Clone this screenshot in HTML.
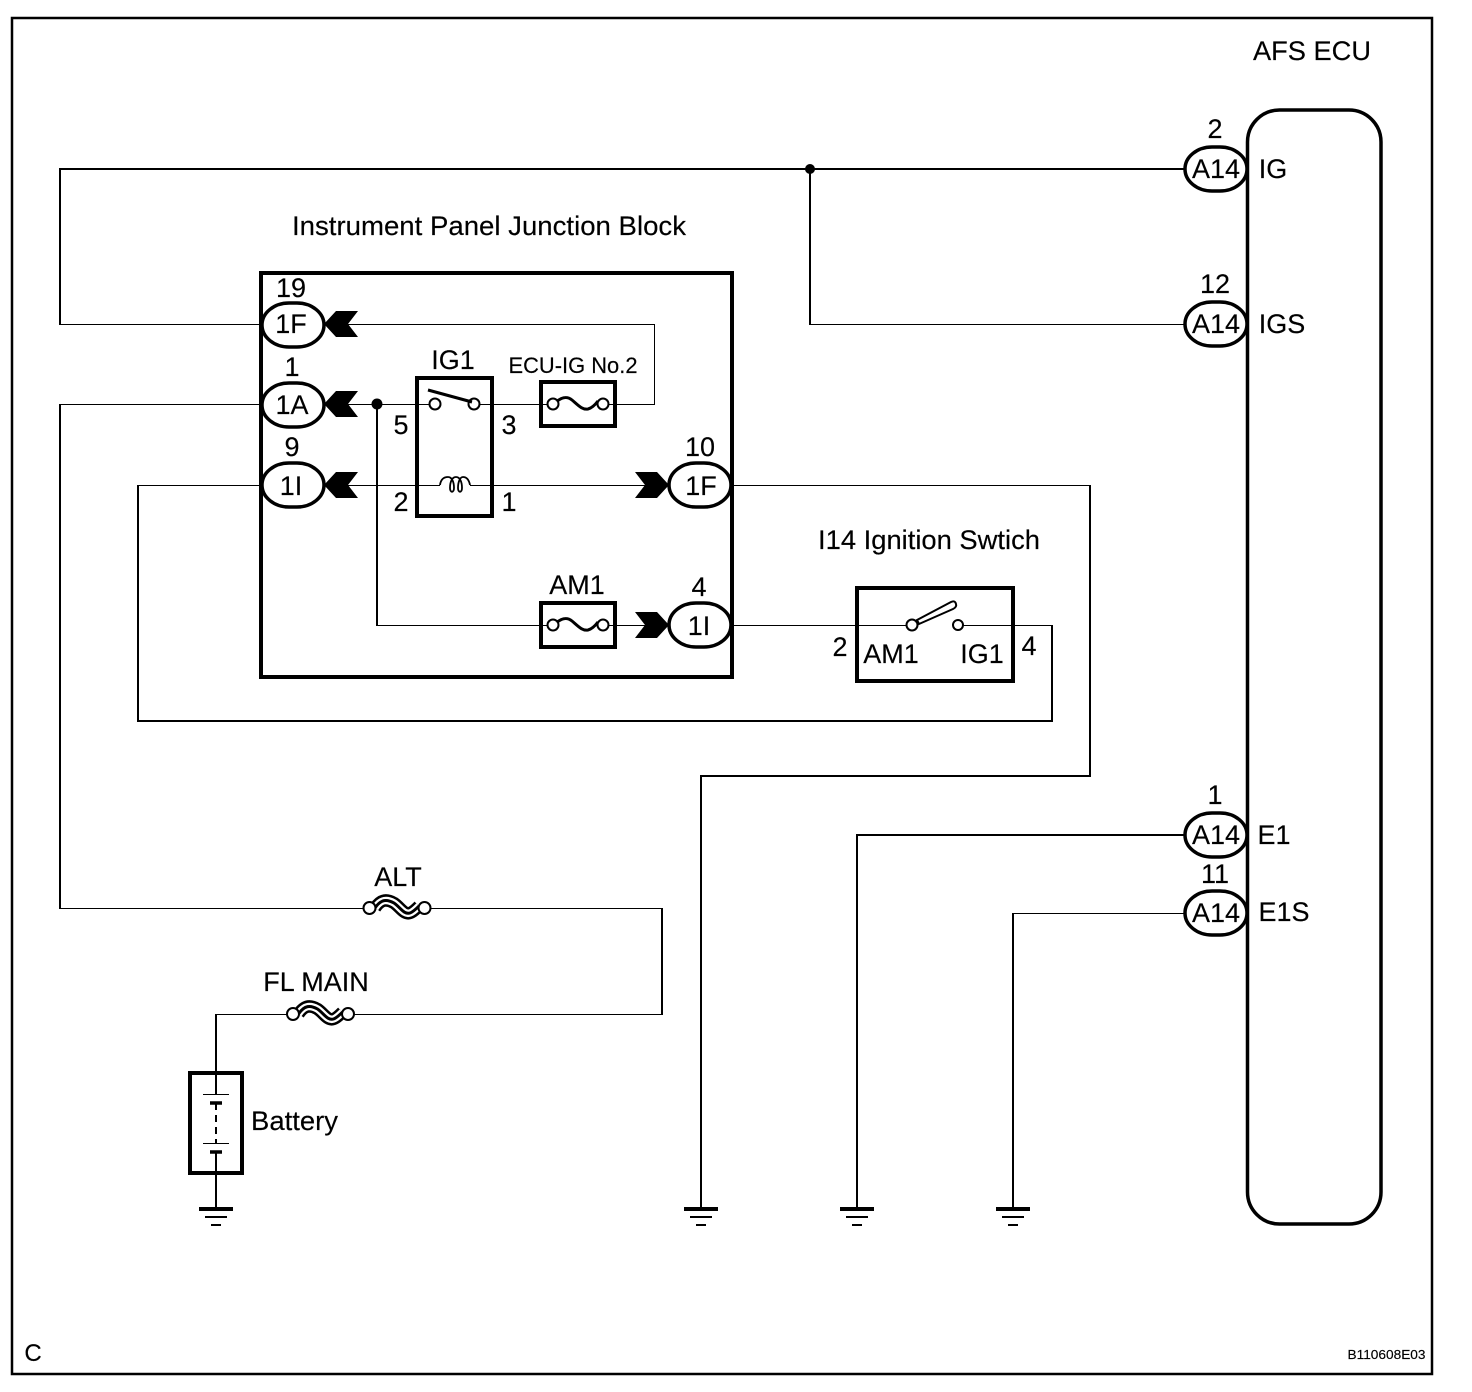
<!DOCTYPE html>
<html><head><meta charset="utf-8"><style>
html,body{margin:0;padding:0;background:#fff}
svg{display:block}
text{font-family:"Liberation Sans",Arial,sans-serif;font-size:27px;fill:#000;text-anchor:middle;stroke:#000;stroke-width:.15}
.w{fill:none;stroke:#000;stroke-width:2;shape-rendering:crispEdges}
.h{fill:none;stroke:#000;stroke-width:1;shape-rendering:crispEdges}
.b{fill:none;stroke:#000;stroke-width:4}
.p{fill:#fff;stroke:#000;stroke-width:3.5}
.c{fill:#fff;stroke:#000;stroke-width:2}
.f{fill:#000;stroke:none}
</style></head><body>
<svg width="1472" height="1392" viewBox="0 0 1472 1392" xmlns="http://www.w3.org/2000/svg">
<defs>
<g id="gnd"><path d="M-17 0H17" stroke="#000" stroke-width="4"/><path d="M-11 8H11" stroke="#000" stroke-width="2"/><path d="M-5 16H5" stroke="#000" stroke-width="2"/></g>
<g id="fuse"><rect x="-37" y="-22" width="74" height="44" fill="#fff" stroke="#000" stroke-width="4"/><path d="M-37 0.5H-25M25 0.5H37" class="h"/><path d="M-22 -2C-16 -7 -11 -8 -6 -4C0 1 4 6 10 5C14 4 17 1 20 -3" fill="none" stroke="#000" stroke-width="3"/><circle cx="-25" cy="0" r="5.5" class="c"/><circle cx="25" cy="0" r="5.5" class="c"/></g>
<g id="bigfuse"><path d="M-22 0C-16 -9 -10 -9 -3 -5C3 -1 7 7 13 5C16 4 19 1 22 -2" fill="none" stroke="#000" stroke-width="12.5"/><path d="M-22 0C-16 -9 -10 -9 -3 -5C3 -1 7 7 13 5C16 4 19 1 22 -2" fill="none" stroke="#fff" stroke-width="7.5"/><path d="M-22 0C-16 -9 -10 -9 -3 -5C3 -1 7 7 13 5C16 4 19 1 22 -2" fill="none" stroke="#000" stroke-width="3"/><circle cx="-27.5" cy="0" r="6" class="c"/><circle cx="27.5" cy="0" r="6" class="c"/></g>
<path id="ck" d="M0 0L12 -13H34L24 0L34 13H12Z" class="f"/>
</defs>
<rect width="1472" height="1392" fill="#fff"/>
<rect x="12" y="18" width="1420" height="1356" fill="none" stroke="#000" stroke-width="2.5"/>

<path class="w" d="M1185 169H60V325M810 169V325M60 404V909"/>
<circle cx="810" cy="169" r="5" class="f"/>
<path class="h" d="M60 324.5H262M810 324.5H1185M60 404.5H262M60 908.5H365M430 908.5H662M662 1014.5H353M288 1014.5H216"/>
<path class="w" d="M662 908V1015M216 1014V1074"/>
<path class="h" d="M138 485.5H262M732 485.5H1091M732 625.5H906M962 625.5H1053"/>
<path class="w" d="M138 485V721H1052V625M1090 485V776H701V1208"/>
<path class="w" d="M1185 835H857V1208"/>
<path class="h" d="M1013 913.5H1185"/>
<path class="w" d="M1013 913V1208"/>

<rect x="261" y="273" width="471" height="404" fill="none" stroke="#000" stroke-width="4"/>
<path class="h" d="M346 324.5H654.5V404.5H474M346 404.5H430M346 485.5H440M470 485.5H645M376 625.5H645M654.5 324V404"/>
<path class="w" d="M377 404V626"/>
<circle cx="377" cy="404" r="5.5" class="f"/>

<rect x="417" y="378" width="75" height="138" class="b"/>
<path class="h" d="M480 404.5H540"/>
<circle cx="435" cy="404" r="5.5" class="c"/><circle cx="474" cy="404" r="5.5" class="c"/>
<path d="M428 390L472 402" stroke="#000" stroke-width="3"/>
<path d="M440 485C441 478 445 477 448 477C452 477 454 482 454 488C454 493 450 493 450 488C450 482 452 477 456 477C460 477 462 482 462 488C462 493 458 493 458 488C458 482 460 477 463 477C467 477 469 480 470 485" fill="none" stroke="#000" stroke-width="1.8"/>
<use href="#fuse" x="578" y="404"/>
<use href="#fuse" x="578" y="625"/>

<rect x="262" y="303" width="62" height="44" rx="27" ry="22" class="p"/>
<rect x="262" y="383" width="62" height="44" rx="27" ry="22" class="p"/>
<rect x="262" y="463" width="62" height="44" rx="27" ry="22" class="p"/>
<rect x="669" y="463" width="62" height="44" rx="27" ry="22" class="p"/>
<rect x="669" y="603" width="62" height="44" rx="27" ry="22" class="p"/>
<use href="#ck" x="324" y="324"/>
<use href="#ck" x="324" y="404"/>
<use href="#ck" x="324" y="485"/>
<use href="#ck" transform="translate(669 485) scale(-1 1)"/>
<use href="#ck" transform="translate(669 625) scale(-1 1)"/>

<rect x="857" y="588" width="156" height="93" class="b"/>
<circle cx="912" cy="625" r="5.5" class="c"/><circle cx="958" cy="625" r="5" class="c"/>
<path d="M917 620L951 602Q955 600 956 604Q957 607 953 609L919 624Z" fill="#fff" stroke="#000" stroke-width="2"/>

<rect x="1247.5" y="110" width="133.5" height="1114" rx="32" fill="#fff" stroke="#000" stroke-width="3.5"/>
<rect x="1185" y="147" width="62" height="44" rx="27" ry="22" class="p"/>
<rect x="1185" y="302" width="62" height="44" rx="27" ry="22" class="p"/>
<rect x="1185" y="813" width="62" height="44" rx="27" ry="22" class="p"/>
<rect x="1185" y="891" width="62" height="44" rx="27" ry="22" class="p"/>

<use href="#bigfuse" x="397" y="908"/>
<use href="#bigfuse" x="320.5" y="1014"/>

<rect x="190" y="1073" width="52" height="100" fill="#fff" stroke="#000" stroke-width="4"/>
<path class="w" d="M216 1073V1094"/>
<path class="h" d="M203 1094.5H229"/>
<path d="M210 1103H222" stroke="#000" stroke-width="3.5"/>
<path class="w" d="M216 1103V1143" stroke-dasharray="7 5"/>
<path class="h" d="M203 1143.5H229"/>
<path d="M210 1152H222" stroke="#000" stroke-width="3.5"/>
<path class="w" d="M216 1152V1208"/>

<use href="#gnd" x="216" y="1209"/>
<use href="#gnd" x="701" y="1209"/>
<use href="#gnd" x="857" y="1209"/>
<use href="#gnd" x="1013" y="1209"/>

<text x="1312" y="60" textLength="118" lengthAdjust="spacingAndGlyphs">AFS ECU</text>
<text x="489" y="235" textLength="394" lengthAdjust="spacingAndGlyphs">Instrument Panel Junction Block</text>
<text x="291" y="297">19</text>
<text x="291" y="333">1F</text>
<text x="292" y="376">1</text>
<text x="292" y="414">1A</text>
<text x="292" y="456">9</text>
<text x="291" y="495">1I</text>
<text x="453" y="369">IG1</text>
<text x="573" y="373" style="font-size:22.5px" textLength="129" lengthAdjust="spacingAndGlyphs">ECU-IG No.2</text>
<text x="401" y="434">5</text>
<text x="509" y="434">3</text>
<text x="401" y="511">2</text>
<text x="509" y="511">1</text>
<text x="700" y="456">10</text>
<text x="701" y="495">1F</text>
<text x="577" y="594">AM1</text>
<text x="699" y="596">4</text>
<text x="699" y="635">1I</text>
<text x="929" y="549" textLength="222" lengthAdjust="spacingAndGlyphs">I14 Ignition Swtich</text>
<text x="840" y="656">2</text>
<text x="891" y="663">AM1</text>
<text x="982" y="663">IG1</text>
<text x="1029" y="655">4</text>
<text x="1215" y="138">2</text>
<text x="1216" y="178">A14</text>
<text x="1273" y="178">IG</text>
<text x="1215" y="293">12</text>
<text x="1216" y="333">A14</text>
<text x="1282" y="333">IGS</text>
<text x="1215" y="804">1</text>
<text x="1216" y="844">A14</text>
<text x="1274" y="844">E1</text>
<text x="1215" y="883">11</text>
<text x="1216" y="922">A14</text>
<text x="1284" y="921">E1S</text>
<text x="398" y="886">ALT</text>
<text x="316" y="991">FL MAIN</text>
<text x="294.5" y="1130" textLength="87" lengthAdjust="spacingAndGlyphs">Battery</text>
<text x="33" y="1361" style="font-size:24px">C</text>
<text x="1386.5" y="1359" style="font-size:13px" textLength="78" lengthAdjust="spacingAndGlyphs">B110608E03</text>
</svg>
</body></html>
